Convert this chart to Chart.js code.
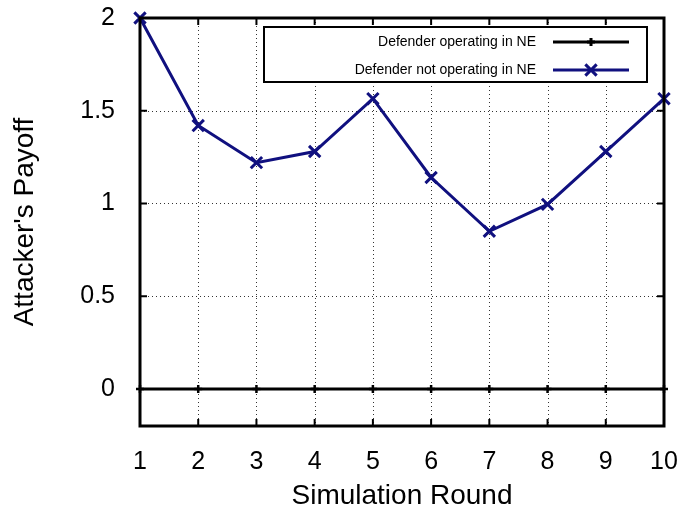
<!DOCTYPE html>
<html>
<head>
<meta charset="utf-8">
<script src="https://cdn.jsdelivr.net/npm/chart.js@4/dist/chart.umd.min.js"></script>
<style>
  html, body { margin: 0; padding: 0; background: #fff; }
  #wrap { width: 697px; height: 513px; }
</style>
</head>
<body>
<div id="wrap"><canvas id="c" width="697" height="513"></canvas></div>
<script>
// data
var rounds = [1, 2, 3, 4, 5, 6, 7, 8, 9, 10];
var inNE = [0, 0, 0, 0, 0, 0, 0, 0, 0, 0];
var notInNE = [2.0, 1.42, 1.22, 1.28, 1.565, 1.14, 0.85, 0.995, 1.28, 1.565];
var yTicks = [0, 0.5, 1, 1.5, 2];
var seriesNames = ['Defender operating in NE', 'Defender not operating in NE'];

var FONT = "'Liberation Sans', Arial, sans-serif";
var NAVY = '#10107f';

// dotted grid under the lines
var gridPlugin = {
  id: 'dotgrid',
  beforeDatasetsDraw: function(chart) {
    var ctx = chart.ctx, a = chart.chartArea;
    var xs = chart.scales.x, ys = chart.scales.y;
    ctx.save();
    ctx.strokeStyle = '#333';
    ctx.lineWidth = 1;
    ctx.setLineDash([1, 3]);
    ctx.beginPath();
    xs.ticks.forEach(function(t) {
      var px = Math.round(xs.getPixelForValue(t.value)) + 0.5;
      ctx.moveTo(px, a.top); ctx.lineTo(px, a.bottom);
    });
    ys.ticks.forEach(function(t) {
      var py = Math.round(ys.getPixelForValue(t.value)) + 0.5;
      ctx.moveTo(a.left, py); ctx.lineTo(a.right, py);
    });
    ctx.stroke();
    ctx.restore();
  }
};

// gnuplot style frame, inward ticks and the boxed legend
var framePlugin = {
  id: 'frame',
  afterDraw: function(chart) {
    var ctx = chart.ctx, a = chart.chartArea;
    var xs = chart.scales.x, ys = chart.scales.y;
    var len = 7;
    ctx.save();
    ctx.strokeStyle = '#000';
    ctx.lineWidth = 2;
    ctx.beginPath();
    xs.ticks.forEach(function(t) {
      var px = xs.getPixelForValue(t.value);
      ctx.moveTo(px, a.bottom); ctx.lineTo(px, a.bottom - len);
      ctx.moveTo(px, a.top); ctx.lineTo(px, a.top + len);
    });
    ys.ticks.forEach(function(t) {
      var py = ys.getPixelForValue(t.value);
      ctx.moveTo(a.left, py); ctx.lineTo(a.left + len, py);
      ctx.moveTo(a.right, py); ctx.lineTo(a.right - len, py);
    });
    ctx.stroke();
    ctx.lineWidth = 3;
    ctx.strokeRect(a.left, a.top, a.right - a.left, a.bottom - a.top);

    // legend box
    var bx = 264, by = 27, bw = 383, bh = 55;
    ctx.fillStyle = '#fff';
    ctx.fillRect(bx, by, bw, bh);
    ctx.lineWidth = 2;
    ctx.strokeRect(bx, by, bw, bh);
    ctx.font = '14px ' + FONT;
    ctx.textAlign = 'right';
    ctx.textBaseline = 'middle';
    chart.data.datasets.forEach(function(ds, i) {
      var ry = by + 15 + i * 28;
      ctx.fillStyle = '#000';
      ctx.fillText(ds.label, 536, ry);
      ctx.strokeStyle = ds.borderColor;
      ctx.lineWidth = 3;
      ctx.beginPath();
      ctx.moveTo(553, ry); ctx.lineTo(629, ry);
      ctx.stroke();
      Chart.helpers.drawPoint(ctx, {
        pointStyle: ds.pointStyle, radius: ds.pointRadius, borderWidth: 3
      }, 591, ry);
    });
    ctx.restore();
  }
};

new Chart(document.getElementById('c'), {
  type: 'line',
  data: {
    labels: rounds,
    datasets: [{
      label: seriesNames[0],
      data: inNE,
      borderColor: '#000',
      borderWidth: 3,
      pointStyle: 'cross',
      pointRadius: 4,
      pointBorderColor: '#000',
      pointBorderWidth: 2.5,
      fill: false,
      tension: 0,
      clip: false
    }, {
      label: seriesNames[1],
      data: notInNE,
      borderColor: NAVY,
      borderWidth: 3,
      pointStyle: 'crossRot',
      pointRadius: 8,
      pointBorderColor: NAVY,
      pointBorderWidth: 3,
      fill: false,
      tension: 0,
      clip: false
    }]
  },
  options: {
    responsive: false,
    animation: false,
    devicePixelRatio: 1,
    layout: { padding: { left: 0, right: 33, top: 18, bottom: 0 } },
    plugins: {
      legend: { display: false },
      tooltip: { enabled: false }
    },
    scales: {
      x: {
        type: 'linear',
        min: 1,
        max: 10,
        afterBuildTicks: function(s) { s.ticks = rounds.map(function(v) { return { value: v }; }); },
        afterFit: function(s) { s.height = 87; s.paddingLeft = 0; s.paddingRight = 0; },
        border: { display: false },
        grid: { display: false },
        ticks: { color: '#000', font: { size: 25, family: FONT }, padding: 13, maxRotation: 0 },
        title: { display: true, text: 'Simulation Round', color: '#000', font: { size: 28, family: FONT }, padding: { top: 0, bottom: 0 } }
      },
      y: {
        min: -0.2,
        max: 2,
        afterBuildTicks: function(s) { s.ticks = yTicks.map(function(v) { return { value: v }; }); },
        afterFit: function(s) { s.width = 140; s.paddingTop = 0; s.paddingBottom = 0; },
        border: { display: false },
        grid: { display: false },
        ticks: { color: '#000', font: { size: 25, family: FONT }, padding: 17,
          callback: function(v) { return String(v); } },
        title: { display: true, text: "Attacker's Payoff", color: '#000', font: { size: 28, family: FONT }, padding: { top: 8, bottom: 0 } }
      }
    }
  },
  plugins: [gridPlugin, framePlugin]
});
</script>
</body>
</html>
